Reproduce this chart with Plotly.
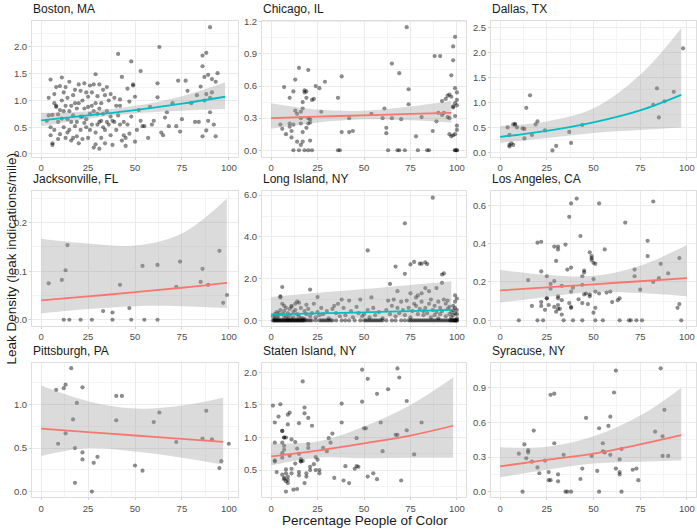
import plotly.graph_objects as go

# ── data: (percent people of color, leak density) per city ──
boston_pts = [
    (4, 1.05), (5, 1.39), (5, 0.35), (6, 0.2), (6, 0.17), (4, 0.72), (5, 0.5), (7, 0.95), (8, 1.25), (8, 0.88),
    (8, 0.9), (9, 0.6), (9, 0.28), (7, 0.45), (10, 1.27), (10, 0.37), (11, 1.43), (11, 1.0), (12, 0.8), (12, 0.5),
    (13, 1.25), (13, 0.3), (14, 0.65), (15, 1.35), (15, 0.8), (15, 0.45), (16, 0.25), (16, 0.9), (17, 1.1), (17, 0.3),
    (18, 0.95), (18, 0.52), (19, 0.6), (19, 0.33), (20, 1.3), (20, 0.2), (21, 0.7), (21, 0.45), (22, 1.0), (22, 0.28),
    (23, 1.32), (23, 0.85), (24, 0.5), (24, 0.65), (25, 1.07), (25, 0.3), (26, 1.28), (26, 0.75), (27, 0.9), (27, 0.55),
    (28, 1.3), (28, 0.12), (29, 1.49), (29, 0.18), (29, 0.4), (30, 1.08), (30, 0.75), (31, 1.3), (31, 0.6), (32, 0.95),
    (32, 0.3), (33, 1.2), (33, 0.5), (34, 1.1), (34, 0.2), (35, 0.8), (35, 0.6), (36, 0.55), (37, 0.35), (38, 0.17),
    (39, 1.05), (39, 0.6), (40, 0.45), (41, 1.87), (42, 0.55), (42, 0.9), (43, 1.44), (44, 0.35), (45, 0.15), (45, 0.3),
    (46, 1.22), (47, 0.98), (48, 1.73), (48, 0.7), (49, 1.28), (49, 1.3), (50, 0.23), (50, 1.07), (51, 0.45), (53, 1.55),
    (53, 0.62), (54, 0.52), (55, 0.52), (57, 0.3), (59, 0.55), (62, 1.06), (62, 1.32), (63, 2.0), (64, 0.4), (65, 0.35),
    (66, 0.68), (67, 0.78), (70, 0.95), (72, 0.52), (73, 1.37), (74, 0.42), (75, 0.65), (77, 1.37), (78, 1.18), (82, 0.6),
    (84, 0.6), (85, 1.26), (86, 1.84), (86, 1.64), (86, 0.33), (87, 1.44), (87, 1.0), (88, 1.89), (88, 1.12), (88, 0.44),
    (89, 1.48), (89, 0.62), (90, 1.05), (90, 2.37), (90, 0.78), (91, 1.15), (91, 1.4), (92, 0.55), (93, 1.35), (93, 0.33),
    (94, 1.51), (6, 0.73), (9, 0.74), (11, 0.66), (13, 0.9), (14, 1.05), (16, 0.6), (18, 1.2), (19, 0.85), (20, 0.95),
    (22, 0.7), (24, 1.15), (26, 0.45), (27, 1.15), (28, 0.8), (30, 0.55), (31, 0.85), (33, 0.75), (34, 0.45), (36, 1.0),
    (37, 0.7), (38, 0.62), (40, 0.9), (42, 1.02), (44, 0.6), (46, 0.55), (47, 0.38), (52, 0.82), (58, 0.88), (60, 0.62),
    (68, 0.52), (80, 0.95), (83, 1.1), (3, 0.62), (7, 1.12), (10, 0.82), (12, 1.15), (14, 0.4), (17, 0.72), (21, 1.18),
    (23, 0.58), (25, 0.88), (29, 0.95), (32, 0.62), (35, 1.25), (37, 1.12), (41, 0.72), (43, 0.25), (31, 0.1),
]
chicago_pts = [
    (5, 0.24), (6, 0.2), (7, 0.59), (8, 0.15), (10, 0.49), (10, 0.25), (10, 0.22), (11, 0.12), (11, 0.18), (12, 0.0),
    (12, 0.55), (12, 0.24), (13, 0.37), (13, 0.66), (14, 0.34), (14, 0.08), (15, 0.77), (15, 0.0), (16, 0.05), (16, 0.3),
    (16, 0.25), (16, 0.36), (17, 0.08), (17, 0.17), (17, 0.39), (17, 0.45), (18, 0.56), (18, 0.54), (18, 0.0), (19, 0.49),
    (19, 0.21), (19, 0.55), (20, 0.75), (20, 0.25), (20, 0.0), (20, 0.3), (21, 0.29), (21, 0.09), (21, 0.26), (22, 0.0),
    (22, 0.47), (23, 0.48), (24, 0.6), (26, 0.58), (27, 0.36), (29, 0.64), (36, 0.49), (36, 0.0), (37, 0.0), (38, 0.69),
    (38, 0.17), (42, 0.3), (42, 0.17), (44, 0.18), (54, 0.34), (60, 0.3), (61, 0.39), (62, 0.21), (62, 0.16), (63, 0.0),
    (65, 0.81), (65, 0.3), (68, 0.0), (69, 0.0), (69, 0.72), (70, 0.29), (72, 0.0), (73, 1.15), (74, 0.57), (74, 0.43),
    (78, 0.13), (79, 0.0), (81, 0.31), (84, 0.0), (85, 0.0), (87, 0.18), (88, 0.88), (89, 0.27), (90, 0.35), (91, 0.88),
    (92, 0.46), (92, 0.33), (93, 0.35), (94, 0.48), (95, 0.51), (95, 0.31), (96, 0.52), (96, 0.3), (96, 0.15), (97, 0.7),
    (97, 0.5), (97, 0.13), (98, 0.97), (98, 0.84), (98, 0.4), (98, 0.14), (99, 1.06), (99, 0.58), (99, 0.44), (99, 0.32),
    (99, 0.15), (99, 0.0), (100, 0.54), (100, 0.47), (100, 0.23), (100, 0.19), (100, 0.0), (100, 0.42), (100, 0.0),
    (99, 0.0), (98, 0.41),
]
dallas_pts = [
    (4, 0.5), (5, 0.35), (5, 0.12), (5, 0.15), (6, 0.18), (7, 0.56), (7, 0.15), (8, 0.57), (8, 0.55), (9, 0.5),
    (12, 0.48), (13, 0.47), (13, 0.28), (14, 0.89), (16, 1.14), (17, 0.35), (19, 0.56), (20, 0.62), (24, 0.44),
    (28, 0.04), (30, 0.13), (37, 0.41), (38, 0.19), (44, 0.55), (82, 0.95), (84, 1.28), (85, 0.7), (88, 1.02),
    (93, 1.21), (98, 2.08),
]
jacksonville_pts = [
    (4, 0.075), (11, 0.082), (12, 0.0), (13, 0.102), (14, 0.154), (15, 0.0), (21, 0.0), (27, 0.0), (33, 0.018),
    (38, 0.0), (38, 0.015), (42, 0.072), (47, 0.024), (48, 0.0), (54, 0.111), (55, 0.0), (62, 0.0), (62, 0.113),
    (72, 0.068), (74, 0.12), (85, 0.078), (86, 0.105), (89, 0.072), (95, 0.142), (97, 0.035), (99, 0.051),
]
long_island_pts = [
    (1, 0.2), (2, 0.3), (2, 0.1), (3, 0.4), (3, 0.15), (4, 0.25), (4, 0.35), (5, 0.5), (5, 1.15), (5, 1.1),
    (6, 0.8), (6, 1.6), (6, 0.3), (7, 0.7), (7, 0.45), (8, 0.2), (8, 0.6), (9, 0.35), (9, 0.1), (10, 0.55),
    (10, 0.25), (11, 0.7), (11, 0.65), (12, 0.4), (12, 0.15), (13, 0.5), (13, 0.8), (14, 0.9), (14, 0.3), (15, 0.85),
    (15, 0.2), (16, 0.6), (17, 0.1), (18, 0.45), (19, 0.75), (19, 0.3), (20, 0.55), (21, 1.48), (21, 0.2), (22, 0.35),
    (23, 0.8), (24, 0.15), (25, 1.12), (25, 0.4), (26, 0.25), (27, 0.6), (28, 0.3), (30, 0.45), (31, 0.1), (33, 0.55),
    (34, 0.7), (35, 0.35), (36, 0.8), (37, 0.2), (38, 1.0), (39, 0.6), (40, 0.25), (42, 0.95), (43, 0.45), (44, 0.15),
    (46, 0.65), (47, 0.35), (48, 1.0), (49, 0.2), (50, 0.3), (52, 3.35), (52, 0.5), (53, 0.15), (54, 1.1), (55, 0.6),
    (56, 0.25), (58, 0.4), (60, 0.1), (62, 0.5), (63, 0.95), (64, 1.75), (64, 0.3), (65, 0.7), (66, 1.0), (67, 2.58),
    (67, 0.2), (68, 1.4), (68, 0.6), (69, 0.35), (70, 0.9), (71, 0.5), (72, 4.65), (72, 2.23), (72, 0.25), (73, 0.95),
    (74, 0.6), (75, 2.68), (75, 1.3), (75, 0.15), (76, 0.45), (77, 2.8), (77, 0.8), (78, 0.7), (78, 1.1), (79, 0.3),
    (79, 1.2), (80, 2.72), (80, 0.55), (81, 2.72), (81, 1.3), (81, 0.9), (82, 0.25), (82, 0.45), (83, 2.78), (83, 1.55),
    (83, 0.6), (84, 2.7), (84, 0.35), (85, 1.4), (85, 0.8), (86, 0.15), (86, 1.0), (87, 5.88), (87, 0.5), (88, 0.7),
    (88, 0.25), (89, 1.55), (89, 0.4), (90, 0.9), (90, 0.1), (91, 0.3), (91, 0.6), (92, 2.2), (92, 1.8), (92, 0.45),
    (93, 2.25), (93, 1.0), (94, 0.2), (94, 0.8), (95, 0.55), (95, 0.95), (96, 0.3), (96, 0.65), (97, 0.4), (97, 0.15),
    (98, 0.7), (98, 0.5), (98, 0.25), (99, 1.2), (99, 0.9), (99, 0.6), (99, 0.35), (100, 1.05), (100, 0.5), (100, 0.3),
    (100, 0.1), (2, 0.05), (4, 0.08), (7, 0.12), (9, 0.05), (11, 0.08), (14, 0.05), (16, 0.1), (18, 0.06),
    # zero-leak tracts
    (1, 0.0), (2, 0.0), (3, 0.0), (4, 0.0), (5, 0.0), (6, 0.0), (7, 0.0), (8, 0.0), (9, 0.0), (10, 0.0),
    (11, 0.0), (12, 0.0), (13, 0.0), (14, 0.0), (15, 0.0), (16, 0.0), (17, 0.0), (18, 0.0), (19, 0.0), (20, 0.0),
    (1.5, 0.0), (2.5, 0.0), (3.5, 0.0), (4.5, 0.0), (5.5, 0.0), (6.5, 0.0), (7.5, 0.0), (8.5, 0.0), (9.5, 0.0),
    (10.5, 0.0), (11.5, 0.0), (12.5, 0.0), (13.5, 0.0), (14.5, 0.0), (15.5, 0.0), (16.5, 0.0), (17.5, 0.0),
    (21, 0.0), (22, 0.0), (24, 0.0), (26, 0.0), (27, 0.0), (28, 0.0), (29, 0.0), (30, 0.0), (31, 0.0), (32, 0.0),
    (33, 0.0), (35, 0.0), (38, 0.0), (40, 0.0), (42, 0.0), (45, 0.0), (48, 0.0), (50, 0.0), (51, 0.0), (52, 0.0),
    (53, 0.0), (54, 0.0), (55, 0.0), (56, 0.0), (57, 0.0), (58, 0.0), (59, 0.0), (60, 0.0), (62, 0.0), (65, 0.0),
    (67, 0.0), (70, 0.0), (72, 0.0), (74, 0.0), (75, 0.0), (76, 0.0), (77, 0.0), (78, 0.0), (79, 0.0), (80, 0.0),
    (81, 0.0), (82, 0.0), (83, 0.0), (84, 0.0), (85, 0.0), (86, 0.0), (87, 0.0), (88, 0.0), (89, 0.0), (90, 0.0),
    (91, 0.0), (92, 0.0), (93, 0.0), (94, 0.0), (95, 0.0), (96, 0.0), (97, 0.0), (98, 0.0), (99, 0.0), (100, 0.0),
    (96.5, 0.0), (97.5, 0.0), (98.5, 0.0), (99.5, 0.0), (99, 0.0), (100, 0.0),
]
los_angeles_pts = [
    (10, 0.0), (15, 0.21), (17, 0.075), (20, 0.0), (20, 0.405), (22, 0.41), (22, 0.255), (22, 0.095), (22, 0.075),
    (23, 0.0), (24, 0.055), (25, 0.115), (25, 0.115), (25, 0.23), (26, 0.08), (27, 0.19), (27, 0.165), (29, 0.385),
    (29, 0.205), (29, 0.07), (30, 0.31), (30, 0.045), (31, 0.385), (31, 0.37), (31, 0.125), (31, 0.115), (31, 0.08),
    (31, 0.06), (32, 0.06), (33, 0.18), (33, 0.03), (33, 0.105), (34, 0.0), (35, 0.395), (36, 0.265), (37, 0.54),
    (37, 0.09), (38, 0.61), (38, 0.275), (38, 0.15), (38, 0.07), (38, 0.065), (39, 0.17), (39, 0.0), (41, 0.635),
    (42, 0.11), (43, 0.44), (44, 0.23), (44, 0.185), (44, 0.09), (44, 0.0), (45, 0.26), (45, 0.25), (45, 0.135),
    (46, 0.14), (47, 0.085), (48, 0.125), (48, 0.135), (48, 0.355), (49, 0.335), (49, 0.325), (49, 0.315), (50, 0.3),
    (50, 0.215), (50, 0.04), (51, 0.295), (51, 0.15), (51, 0.065), (51, 0.0), (53, 0.61), (53, 0.14), (55, 0.0),
    (56, 0.37), (57, 0.145), (59, 0.15), (60, 0.095), (63, 0.105), (64, 0.115), (64, 0.0), (67, 0.51), (69, 0.0),
    (70, 0.0), (72, 0.265), (72, 0.23), (73, 0.0), (75, 0.16), (76, 0.0), (79, 0.415), (79, 0.335), (82, 0.2),
    (82, 0.62), (85, 0.22), (86, 0.295), (90, 0.245), (95, 0.065), (96, 0.085), (96, 0.325), (97, 0.0),
]
pittsburgh_pts = [
    (8, 1.17), (9, 0.55), (12, 1.19), (13, 1.23), (13, 0.67), (16, 1.42), (17, 0.83), (18, 0.5), (18, 0.1),
    (19, 1.02), (22, 0.45), (22, 0.37), (22, 1.2), (27, 0.0), (28, 0.33), (30, 0.4), (40, 1.1), (40, 0.82),
    (43, 1.1), (50, 0.3), (54, 0.24), (60, 0.8), (63, 0.91), (72, 0.57), (86, 0.61), (88, 0.93), (91, 0.6),
    (95, 0.27), (96, 0.35), (100, 0.55),
]
staten_island_pts = [
    (1, 1.49), (2, 0.65), (2, 0.63), (2, 0.92), (2, 1.23), (3, 0.47), (4, 1.32), (5, 1.51), (6, 0.92), (6, 1.1),
    (6, 1.1), (6, 0.76), (6, 0.69), (6, 0.43), (7, 1.0), (7, 1.0), (7, 0.87), (7, 0.81), (7, 0.38), (7, 0.36),
    (8, 0.51), (8, 0.45), (8, 0.17), (8, 1.0), (8, 0.33), (9, 0.4), (9, 0.35), (9, 0.3), (9, 1.2), (9, 1.35),
    (10, 1.38), (10, 0.72), (11, 0.97), (11, 0.52), (11, 0.45), (12, 0.2), (13, 0.93), (13, 0.6), (14, 0.21),
    (14, 0.83), (15, 1.22), (15, 0.75), (15, 0.47), (15, 0.42), (16, 0.64), (16, 0.67), (16, 0.63), (17, 1.86),
    (17, 0.64), (18, 0.3), (18, 1.37), (18, 1.46), (19, 0.45), (19, 0.4), (20, 1.3), (20, 0.9), (20, 0.84),
    (21, 0.55), (21, 0.5), (22, 1.18), (23, 0.59), (24, 0.7), (24, 0.5), (25, 0.66), (26, 0.5), (26, 0.45),
    (28, 0.84), (30, 0.79), (31, 0.99), (32, 0.92), (33, 1.06), (34, 0.38), (38, 1.52), (38, 1.23), (39, 0.34),
    (40, 0.56), (42, 0.3), (45, 0.52), (46, 0.56), (46, 0.99), (47, 0.55), (49, 2.04), (49, 1.55), (50, 1.14),
    (51, 1.14), (52, 1.9), (52, 0.4), (55, 0.45), (57, 1.67), (57, 0.36), (59, 1.23), (60, 0.79), (63, 1.74),
    (67, 1.04), (68, 1.04), (68, 2.06), (69, 1.92), (70, 0.34), (73, 1.56), (73, 1.11), (77, 0.74), (81, 1.23),
]
syracuse_pts = [
    (10, 0.33), (12, 0.0), (13, 0.41), (14, 0.29), (15, 0.34), (15, 0.36), (17, 0.26), (18, 0.53), (20, 0.21),
    (21, 0.16), (24, 0.27), (26, 0.17), (26, 0.1), (27, 0.84), (27, 0.1), (29, 0.85), (29, 0.42), (31, 0.15),
    (31, 0.09), (34, 0.32), (35, 0.0), (36, 0.0), (38, 0.0), (43, 0.11), (44, 0.2), (46, 0.64), (49, 0.31),
    (52, 0.18), (53, 0.0), (53, 0.55), (55, 0.42), (55, 0.35), (56, 0.34), (58, 0.57), (59, 0.65), (59, 0.32),
    (61, 0.86), (62, 0.2), (62, 1.05), (64, 0.28), (64, 0.17), (64, 0.15), (65, 0.37), (65, 0.0), (71, 0.19),
    (73, 0.2), (74, 0.1), (83, 0.52), (86, 1.07), (87, 0.31), (87, 0.48), (88, 0.71), (90, 0.31),
]

# ── fitted trend: x, fit, lower, upper ──
boston_fit = ([0, 25, 50, 75, 98], [0.63, 0.72, 0.82, 0.94, 1.07], [0.52, 0.66, 0.76, 0.81, 0.84], [0.77, 0.80, 0.90, 1.08, 1.34])
chicago_fit = ([0, 25, 50, 75, 97], [0.30, 0.315, 0.325, 0.34, 0.35], [0.20, 0.26, 0.29, 0.28, 0.26], [0.44, 0.38, 0.37, 0.41, 0.46])
dallas_fit = ([0, 25, 50, 75, 97], [0.31, 0.43, 0.60, 0.84, 1.15], [0.19, 0.29, 0.39, 0.45, 0.50], [0.53, 0.62, 0.88, 1.55, 2.48])
jacksonville_fit = ([0, 25, 50, 75, 99], [0.040, 0.048, 0.057, 0.066, 0.076], [0.013, 0.022, 0.028, 0.028, 0.024], [0.167, 0.157, 0.153, 0.178, 0.250])
long_island_fit = ([0, 25, 50, 75, 97], [0.29, 0.34, 0.39, 0.45, 0.51], [0.08, 0.10, 0.12, 0.14, 0.15], [1.12, 1.32, 1.50, 1.70, 1.88])
los_angeles_fit = ([0, 25, 50, 75, 100], [0.156, 0.172, 0.188, 0.204, 0.22], [0.093, 0.122, 0.148, 0.142, 0.125], [0.262, 0.237, 0.232, 0.285, 0.393])
pittsburgh_fit = ([0, 25, 50, 75, 97], [0.725, 0.685, 0.645, 0.607, 0.572], [0.41, 0.50, 0.46, 0.39, 0.31], [1.22, 1.04, 0.955, 0.99, 1.08])
staten_island_fit = ([0, 25, 50, 75, 98], [0.71, 0.80, 0.91, 1.03, 1.18], [0.57, 0.69, 0.68, 0.69, 0.69], [0.91, 0.94, 1.17, 1.50, 1.92])
syracuse_fit = ([0, 25, 50, 75, 97], [0.22, 0.275, 0.33, 0.41, 0.49], [0.125, 0.19, 0.245, 0.26, 0.27], [0.385, 0.39, 0.48, 0.66, 0.90])

TEAL = "#00BFC4"
SALMON = "#F8766D"

# title, points, fit, line color, y range, y dtick
PANELS = [
    ("Boston, MA", boston_pts, boston_fit, TEAL, [-0.05, 2.49], 0.5),
    ("Chicago, IL", chicago_pts, chicago_fit, SALMON, [-0.06, 1.21], 0.3),
    ("Dallas, TX", dallas_pts, dallas_fit, TEAL, [-0.085, 2.63], 0.5),
    ("Jacksonville, FL", jacksonville_pts, jacksonville_fit, SALMON, [-0.013, 0.265], 0.1),
    ("Long Island, NY", long_island_pts, long_island_fit, TEAL, [-0.27, 6.19], 2.0),
    ("Los Angeles, CA", los_angeles_pts, los_angeles_fit, SALMON, [-0.03, 0.674], 0.2),
    ("Pittsburgh, PA", pittsburgh_pts, pittsburgh_fit, SALMON, [-0.068, 1.485], 0.5),
    ("Staten Island, NY", staten_island_pts, staten_island_fit, SALMON, [0.08, 2.15], 0.5),
    ("Syracuse, NY", syracuse_pts, syracuse_fit, SALMON, [-0.05, 1.12], 0.3),
]

W, H = 697, 530
COL_PX = [(32, 238), (262, 466), (491, 696)]
ROW_PX = [(16, 154), (189, 326), (363, 500)]

GRID = "#ebebeb"
MINOR = "#f4f4f4"
BORDER = "#dedede"
FONT = "Liberation Sans, Arial, sans-serif"
TICKFONT = dict(family=FONT, size=9.5, color="#4d4d4d")

fig = go.Figure()
annotations = []
layout_axes = {}

for i, (title, pts, fit, color, yrange, ydt) in enumerate(PANELS):
    k = i + 1
    r, c = divmod(i, 3)
    xs = "x" if k == 1 else f"x{k}"
    ys = "y" if k == 1 else f"y{k}"
    px, py = zip(*pts)
    fx, fy, flo, fhi = fit

    fig.add_trace(go.Scatter(
        x=px, y=py, xaxis=xs, yaxis=ys, mode="markers",
        marker=dict(size=4.2, color="rgba(0,0,0,0.45)", line=dict(width=0)),
        showlegend=False, hoverinfo="skip",
    ))
    fig.add_trace(go.Scatter(
        x=fx, y=flo, xaxis=xs, yaxis=ys, mode="lines",
        line=dict(width=0, shape="spline"), showlegend=False, hoverinfo="skip",
    ))
    fig.add_trace(go.Scatter(
        x=fx, y=fhi, xaxis=xs, yaxis=ys, mode="lines",
        line=dict(width=0, shape="spline"), fill="tonexty",
        fillcolor="rgba(153,153,153,0.35)", showlegend=False, hoverinfo="skip",
    ))
    fig.add_trace(go.Scatter(
        x=fx, y=fy, xaxis=xs, yaxis=ys, mode="lines",
        line=dict(width=1.8, color=color, shape="spline"), showlegend=False, hoverinfo="skip",
    ))

    x0, x1 = COL_PX[c]
    y0, y1 = ROW_PX[r]
    xdom = [x0 / W, x1 / W]
    ydom = [1 - y1 / H, 1 - y0 / H]
    common = dict(
        showline=True, mirror=True, linecolor=BORDER, linewidth=1,
        showgrid=True, gridcolor=GRID, gridwidth=1, zeroline=False,
        ticks="outside", ticklen=2, tickcolor="#cfcfcf", tickfont=TICKFONT,
    )
    layout_axes["xaxis" if k == 1 else f"xaxis{k}"] = dict(
        domain=xdom, anchor=ys, range=[-4.9, 104.9], tick0=0, dtick=25,
        minor=dict(dtick=12.5, tick0=0, showgrid=True, gridcolor=MINOR, ticklen=0),
        **common,
    )
    layout_axes["yaxis" if k == 1 else f"yaxis{k}"] = dict(
        domain=ydom, anchor=xs, range=yrange, tick0=0, dtick=ydt, tickformat=".1f",
        minor=dict(dtick=ydt / 2, tick0=0, showgrid=True, gridcolor=MINOR, ticklen=0),
        **common,
    )
    annotations.append(dict(
        text=title, x=x0 / W, y=1 - (y0 - 4) / H, xref="paper", yref="paper",
        xanchor="left", yanchor="bottom", showarrow=False, borderpad=0,
        font=dict(family=FONT, size=12, color="#1a1a1a"),
    ))

annotations.append(dict(
    text="Percentage People of Color", x=(32 + 697) / 2 / W, y=1 - 514 / H,
    xref="paper", yref="paper", xanchor="center", yanchor="top", showarrow=False,
    font=dict(family=FONT, size=13.5, color="#1a1a1a"),
))
annotations.append(dict(
    text="Leak Density (leak indications/mile)", x=2 / W, y=1 - 258 / H,
    xref="paper", yref="paper", xanchor="left", yanchor="middle", textangle=-90,
    showarrow=False,
    font=dict(family=FONT, size=13.5, color="#1a1a1a"),
))

fig.update_layout(
    width=W, height=H,
    margin=dict(l=0, r=0, t=0, b=0),
    paper_bgcolor="white", plot_bgcolor="white",
    annotations=annotations,
    **layout_axes,
)

fig.write_html(
    "out.html",
    config={"displayModeBar": False},
    post_script="document.body.style.margin='0';document.body.style.overflow='hidden';",
)
